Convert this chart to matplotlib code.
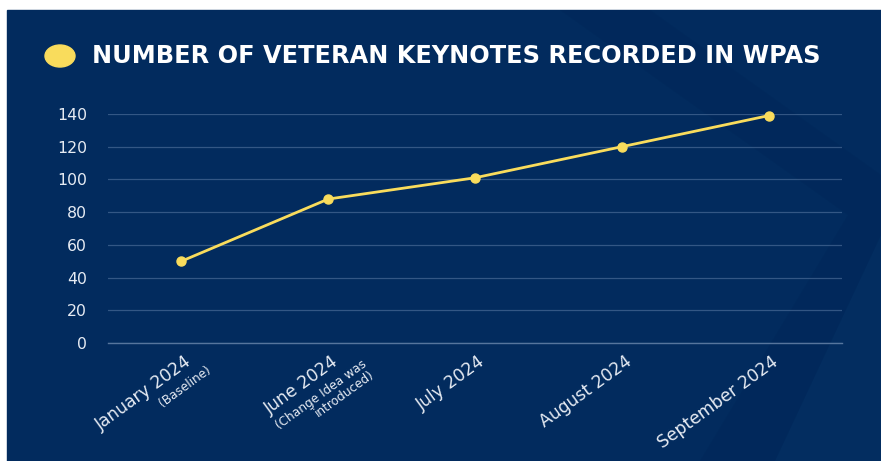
import numpy as np
import matplotlib.pyplot as plt
from matplotlib.patches import Rectangle, Ellipse, Polygon

# chart data
months = ["January 2024", "June 2024", "July 2024", "August 2024", "September 2024"]
notes = [["(Baseline)"], ["(Change Idea was", "introduced)"], [], [], []]
keynotes = [50, 88, 101, 120, 139]
yticks = [0, 20, 40, 60, 80, 100, 120, 140]
title = "NUMBER OF VETERAN KEYNOTES RECORDED IN WPAS"

# colours / layout
bg = "#022b5e"
yellow = "#f9dc5c"
label_col = "#e6ebf3"
note_shift = [11, 22, 0, 0, 0]   # px along the label direction

W, H = 881, 461
fig = plt.figure(figsize=(W / 100, H / 100), dpi=100, facecolor="white")

# navy card with a small white margin on top and left
fig.patches.append(Rectangle((7 / W, 0), 1 - 7 / W, (H - 10) / H,
                             transform=fig.transFigure, color=bg, zorder=-3))

def px(pts):
    return [(x / W, (H - y) / H) for x, y in pts]

# faint diagonal shading on the right
fig.patches.append(Polygon(px([(560, 10), (650, 10), (881, 175), (881, 235),
                               (775, 461), (700, 461), (848, 215)]),
                           closed=True, transform=fig.transFigure,
                           color="#001d4a", alpha=0.15, lw=0, zorder=-2))
fig.patches.append(Polygon(px([(881, 235), (881, 461), (775, 461)]),
                           closed=True, transform=fig.transFigure,
                           color="#0a3a70", alpha=0.15, lw=0, zorder=-2))

ax = fig.add_axes([108 / W, (H - 343) / H, (842 - 108) / W, (343 - 114) / H])
ax.set_facecolor("none")

x = np.arange(len(months))
ax.plot(x, keynotes, color=yellow, lw=2, marker="o", ms=6.5,
        clip_on=False, zorder=3)

ax.set_xlim(-0.5, len(months) - 0.5)
ax.set_ylim(0, 140)
ax.set_yticks(yticks)
ax.set_xticks([])
for s in ax.spines.values():
    s.set_visible(False)
ax.yaxis.grid(True, color="#6f8db5", alpha=0.45, lw=0.9)
ax.axhline(0, color="#8fa8c8", alpha=0.6, lw=1, clip_on=False, zorder=1)
ax.set_axisbelow(True)
ax.tick_params(axis="y", length=0, pad=15, labelsize=11.3, labelcolor=label_col)
for t in ax.get_yticklabels():
    t.set_family("DejaVu Sans")

# rotated x labels
ang = 36
u = np.array([np.cos(np.radians(ang)), np.sin(np.radians(ang))])
n = np.array([np.sin(np.radians(ang)), -np.cos(np.radians(ang))])
base = np.array([11.0, -21.0])
for i, m in enumerate(months):
    ax.annotate(m, xy=(i, 0), xytext=tuple(base), textcoords="offset pixels",
                ha="right", va="baseline", rotation=ang, rotation_mode="anchor",
                fontsize=12.3, color=label_col, family="DejaVu Sans")
    for k, line in enumerate(notes[i]):
        off = base + note_shift[i] * u + (17.5 + 13 * k) * n
        ax.annotate(line, xy=(i, 0), xytext=tuple(off), textcoords="offset pixels",
                    ha="right", va="baseline", rotation=ang, rotation_mode="anchor",
                    fontsize=8.7, color=label_col, family="DejaVu Sans")

# title with yellow dot
fig.patches.append(Ellipse((60 / W, (H - 56) / H), 30 / W, 22 / H,
                           transform=fig.transFigure, color=yellow, zorder=2))
tt = fig.text(92 / W, (H - 63) / H, title, color="white", fontweight="bold",
              family="DejaVu Sans", fontsize=16, va="baseline", ha="left")
fig.canvas.draw()
w = tt.get_window_extent().width
tt.set_fontsize(16 * 726 / w)

fig.savefig("out.png", dpi=100, facecolor="white")
